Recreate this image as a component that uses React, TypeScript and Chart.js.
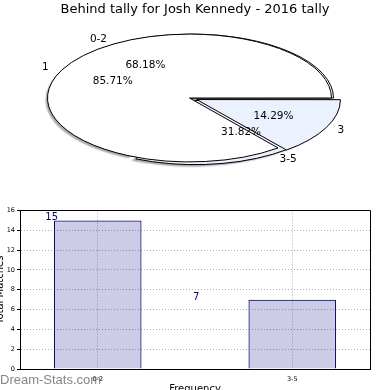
import React, { useEffect, useRef } from 'react';
import { Chart, registerables } from 'chart.js';

Chart.register(...registerables);

const FONT = 'DejaVu Sans';
const chartTitle = 'Behind tally for Josh Kennedy - 2016 tally';

// pie drawn underneath
const outerLabels = ['0-2', '3-5'];
const outerValues = [15, 7];
const outerColors = ['#ffffff', '#ebf1ff'];
const outerExplode = [0, 26];

// pie drawn on top
const innerLabels = ['1', '3'];
const innerValues = [6, 1];
const innerColors = ['#ffffff', '#ebf1ff'];
const innerExplode = [0, 32];

// bar chart
const barLabels = ['0-2', '3-5'];
const barPositions = [0, 1];
const barValues = [15, 7];
const valueLabelX = [-0.27, 0.49];
const yMin = 0;
const yMax = 16;
const yStep = 2;
const xMin = -0.4;
const xMax = 1.4;
const xAxisTitle = 'Frequency';
const yAxisTitle = 'Total Matches';
const watermark = 'Dream-Stats.com';

const SQUASH = 0.45;
const PIE_RADIUS = 142;

function ellipsePlugin(shadow: boolean) {
  return {
    id: 'ellipse',
    beforeDatasetsDraw(chart: any) {
      const ctx = chart.ctx;
      const a = chart.chartArea;
      const cx = (a.left + a.right) / 2;
      const cy = (a.top + a.bottom) / 2;
      ctx.save();
      if (shadow) {
        ctx.shadowColor = 'rgba(0,0,0,0.35)';
        ctx.shadowOffsetX = -4;
        ctx.shadowOffsetY = 2;
        ctx.shadowBlur = 1.5;
      }
      ctx.translate(cx, cy);
      ctx.scale(1, -SQUASH);
      ctx.translate(-cx, -cy);
      const dpr = chart.currentDevicePixelRatio || 1;
      const base = CanvasRenderingContext2D.prototype.stroke;
      ctx.stroke = function (...args: any[]) {
        this.save();
        this.setTransform(dpr, 0, 0, dpr, 0, 0);
        this.shadowColor = 'rgba(0,0,0,0)';
        base.apply(this, args as any);
        this.restore();
      };
    },
    afterDatasetsDraw(chart: any) {
      const ctx = chart.ctx;
      delete ctx.stroke;
      ctx.restore();
    },
  };
}

function drawPieLabels(source: any, ctx: CanvasRenderingContext2D, labels: string[], values: number[]) {
  const meta = source.getDatasetMeta(0);
  const total = values.reduce((s, v) => s + v, 0);
  ctx.font = `10.5px "${FONT}"`;
  ctx.fillStyle = '#000';
  ctx.textBaseline = 'middle';
  meta.data.forEach((el: any, i: number) => {
    const { x, y, startAngle, endAngle, outerRadius } = el;
    const t = (el.options.offset || 0) / 4;
    const mid = (startAngle + endAngle) / 2;
    const c = Math.cos(mid);
    const s = Math.sin(mid);
    const d1 = 1.1 * outerRadius + t;
    ctx.textAlign = c < 0 ? 'right' : 'left';
    ctx.fillText(labels[i], x + c * d1, y - SQUASH * s * d1);
    const d2 = 0.6 * outerRadius + t;
    ctx.textAlign = 'center';
    const pct = ((values[i] / total) * 100).toFixed(2) + '%';
    ctx.fillText(pct, x + c * d2, y - SQUASH * s * d2);
  });
}

function pieConfig(labels: string[], values: number[], colors: string[], explode: number[], padRight: number, plugins: any[]) {
  return {
    type: 'pie' as const,
    data: {
      labels,
      datasets: [
        {
          data: values,
          backgroundColor: colors,
          borderColor: '#000',
          borderWidth: 1,
          offset: explode,
          hoverOffset: 0,
          radius: PIE_RADIUS,
          clip: false as any,
        },
      ],
    },
    options: {
      animation: false as const,
      responsive: false,
      events: [] as any,
      rotation: 90,
      radius: PIE_RADIUS,
      layout: { padding: { left: 0, right: padRight, top: 0, bottom: 4 } },
      plugins: {
        legend: { display: false },
        tooltip: { enabled: false },
        title: { display: false },
      },
    },
    plugins,
  };
}

export default function App() {
  const backRef = useRef<HTMLCanvasElement>(null);
  const frontRef = useRef<HTMLCanvasElement>(null);
  const barRef = useRef<HTMLCanvasElement>(null);

  useEffect(() => {
    Chart.defaults.font.family = FONT;
    const back = new Chart(
      backRef.current as HTMLCanvasElement,
      pieConfig(outerLabels, outerValues, outerColors, outerExplode, 7, [ellipsePlugin(true)]) as any
    );

    const labelsPlugin = {
      id: 'pieLabels',
      afterDraw(chart: any) {
        const ctx = chart.ctx as CanvasRenderingContext2D;
        ctx.save();
        ctx.font = `13px "${FONT}"`;
        ctx.fillStyle = '#000';
        ctx.textAlign = 'center';
        ctx.textBaseline = 'middle';
        ctx.fillText(chartTitle, 195, 10);
        drawPieLabels(back, ctx, outerLabels, outerValues);
        drawPieLabels(chart, ctx, innerLabels, innerValues);
        ctx.restore();
      },
    };

    const front = new Chart(
      frontRef.current as HTMLCanvasElement,
      pieConfig(innerLabels, innerValues, innerColors, innerExplode, 11, [ellipsePlugin(false), labelsPlugin]) as any
    );

    const barExtras = {
      id: 'barExtras',
      afterDraw(chart: any) {
        const ctx = chart.ctx as CanvasRenderingContext2D;
        const a = chart.chartArea;
        const xs = chart.scales.x;
        const ys = chart.scales.y;
        const align = (p: number) => Math.round(p - 0.5) + 0.5;
        ctx.save();
        ctx.strokeStyle = '#000';
        ctx.lineWidth = 1;
        ctx.beginPath();
        ctx.moveTo(align(a.left), align(a.top));
        ctx.lineTo(align(a.right), align(a.top));
        ctx.lineTo(align(a.right), align(a.bottom));
        ctx.stroke();

        ctx.fillStyle = '#000080';
        ctx.font = `10px "${FONT}"`;
        ctx.textAlign = 'left';
        ctx.textBaseline = 'alphabetic';
        barValues.forEach((v, i) => {
          ctx.fillText(String(v), xs.getPixelForValue(valueLabelX[i]), ys.getPixelForValue(v));
        });

        ctx.fillStyle = '#000';
        ctx.font = `10px "${FONT}"`;
        ctx.textAlign = 'center';
        ctx.textBaseline = 'top';
        ctx.fillText(xAxisTitle, (a.left + a.right) / 2, 184.5);

        ctx.save();
        ctx.translate(2.5, (a.top + a.bottom) / 2);
        ctx.rotate(-Math.PI / 2);
        ctx.textBaseline = 'alphabetic';
        ctx.fillText(yAxisTitle, 0, 0);
        ctx.restore();

        ctx.fillStyle = 'rgba(120,120,120,0.9)';
        ctx.font = `13px "Liberation Sans"`;
        ctx.textAlign = 'left';
        ctx.textBaseline = 'alphabetic';
        ctx.fillText(watermark, 0, 183.5);
        ctx.restore();
      },
    };

    const bar = new Chart(barRef.current as HTMLCanvasElement, {
      type: 'bar',
      data: {
        datasets: [
          {
            data: barPositions.map((x, i) => ({ x, y: barValues[i] })),
            backgroundColor: 'rgba(0,0,128,0.2)',
            borderColor: '#000080',
            borderWidth: 1,
            barPercentage: 0.45,
            categoryPercentage: 1,
          },
        ],
      },
      options: {
        animation: false,
        responsive: false,
        events: [],
        layout: { padding: { top: 10.5, right: 20, left: 0, bottom: 0 } },
        plugins: { legend: { display: false }, tooltip: { enabled: false } },
        scales: {
          x: {
            type: 'linear',
            offset: false,
            min: xMin,
            max: xMax,
            afterBuildTicks: (s: any) => {
              s.ticks = barPositions.map((v) => ({ value: v }));
            },
            afterFit: (s: any) => {
              s.height = 21;
            },
            ticks: {
              callback: (v: any) => {
                const idx = barPositions.indexOf(Number(v));
                return idx >= 0 ? barLabels[idx] : '';
              },
              font: { family: FONT, size: 6.5 },
              color: '#000',
              padding: 2,
              maxRotation: 0,
              autoSkip: false,
            },
            grid: {
              offset: false,
              color: '#b0b0b0',
              lineWidth: 1,
              tickLength: 4,
              tickColor: 'rgba(0,0,0,0)',
              tickBorderDash: [],
            },
            border: { display: true, color: '#000', width: 1, dash: [1, 2] },
          } as any,
          y: {
            min: yMin,
            max: yMax,
            afterFit: (s: any) => {
              s.width = 20;
            },
            ticks: {
              stepSize: yStep,
              font: { family: FONT, size: 6.5 },
              color: '#000',
              padding: 2,
            },
            grid: {
              color: '#b0b0b0',
              lineWidth: 1,
              tickLength: 3,
              tickColor: '#000',
              tickBorderDash: [],
            },
            border: { display: true, color: '#000', width: 1, dash: [1, 2] },
          } as any,
        },
      },
      plugins: [barExtras],
    } as any);

    return () => {
      front.destroy();
      back.destroy();
      bar.destroy();
    };
  }, []);

  return (
    <div style={{ position: 'absolute', left: 0, top: 0, width: 390, height: 390, background: '#fff' }}>
      <canvas ref={backRef} width={390} height={200} style={{ position: 'absolute', left: 0, top: 0, width: 390, height: 200 }} />
      <canvas ref={frontRef} width={390} height={200} style={{ position: 'absolute', left: 0, top: 0, width: 390, height: 200 }} />
      <canvas ref={barRef} width={390} height={190} style={{ position: 'absolute', left: 0, top: 200, width: 390, height: 190 }} />
    </div>
  );
}
